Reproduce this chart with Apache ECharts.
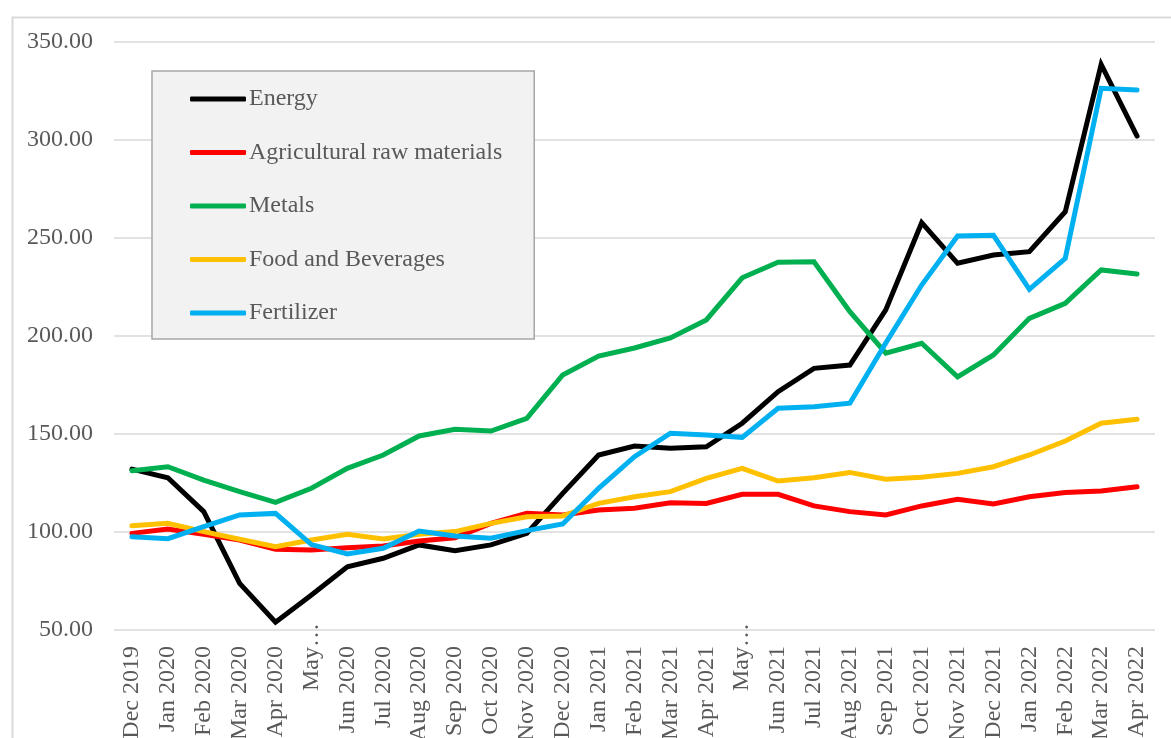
<!DOCTYPE html>
<html>
<head>
<meta charset="utf-8">
<script src="https://cdn.jsdelivr.net/npm/echarts@6/dist/echarts.min.js"></script>
<style>
  html, body { margin: 0; padding: 0; background: #ffffff; }
  #chart { width: 1171px; height: 738px; }
</style>
</head>
<body>
<div id="chart"></div>
<script>
// Monthly commodity price indices, Dec 2019 – Apr 2022
const months = [
  'Dec 2019', 'Jan 2020', 'Feb 2020', 'Mar 2020', 'Apr 2020', 'May 2020',
  'Jun 2020', 'Jul 2020', 'Aug 2020', 'Sep 2020', 'Oct 2020', 'Nov 2020',
  'Dec 2020', 'Jan 2021', 'Feb 2021', 'Mar 2021', 'Apr 2021', 'May 2021',
  'Jun 2021', 'Jul 2021', 'Aug 2021', 'Sep 2021', 'Oct 2021', 'Nov 2021',
  'Dec 2021', 'Jan 2022', 'Feb 2022', 'Mar 2022', 'Apr 2022'
];

const energy = [
  132.1, 127.7, 110.4, 73.8, 54.0, 67.9, 82.3, 86.6, 93.4, 90.5, 93.4, 99.3,
  119.7, 139.3, 143.9, 142.7, 143.5, 155.5, 171.6, 183.5, 185.2, 213.3, 257.8,
  237.1, 241.3, 243.0, 263.4, 338.6, 302.0
];
const agriRaw = [
  99.3, 101.5, 98.8, 95.9, 91.2, 90.8, 92.0, 92.9, 95.4, 97.1, 104.4, 109.5,
  108.7, 111.2, 112.1, 114.9, 114.6, 119.2, 119.2, 113.3, 110.4, 108.7, 113.3,
  116.7, 114.3, 118.0, 120.2, 120.9, 123.1
];
const metals = [
  131.3, 133.3, 126.5, 120.6, 115.1, 122.3, 132.5, 139.3, 149.0, 152.4, 151.5, 158.0,
  180.1, 189.8, 193.9, 199.0, 208.2, 229.7, 237.6, 237.9, 212.4, 191.2, 196.3,
  179.2, 190.3, 209.0, 216.7, 233.7, 231.6
];
const foodBev = [
  103.2, 104.4, 100.2, 96.3, 92.5, 95.9, 98.8, 96.4, 98.8, 100.2, 104.4, 107.8,
  108.2, 114.6, 118.0, 120.6, 127.4, 132.5, 126.0, 127.7, 130.4, 126.9, 127.9,
  129.9, 133.3, 139.3, 146.4, 155.5, 157.5
];
const fertilizer = [
  97.6, 96.6, 102.7, 108.7, 109.5, 93.6, 88.8, 91.7, 100.5, 98.0, 96.8, 100.7,
  104.1, 122.3, 138.4, 150.4, 149.5, 148.3, 163.1, 163.9, 165.7, 196.4, 226.0,
  251.0, 251.4, 223.8, 239.6, 326.4, 325.5
];

const seriesNames = ['Energy', 'Agricultural raw materials', 'Metals', 'Food and Beverages', 'Fertilizer'];
const seriesColors = ['#000000', '#ff0000', '#00b050', '#ffc000', '#00b0f0'];
const seriesValues = [energy, agriRaw, metals, foodBev, fertilizer];

// Y axis ticks
const yMin = 50, yMax = 350, yStep = 50;

// Labels that the axis shortens
const shortLabel = { 'May 2020': 'May…', 'May 2021': 'May…' };

const FONT = '"Liberation Serif", "Times New Roman", serif';
const TEXT = '#595959';
const GRID = '#d9d9d9';

const chart = echarts.init(document.getElementById('chart'), null, { renderer: 'canvas' });

const isShort = (v) => Object.prototype.hasOwnProperty.call(shortLabel, v);

chart.setOption({
  backgroundColor: '#ffffff',
  animation: false,
  graphic: [{
    type: 'rect',
    left: 10, top: 15,
    shape: { width: 1175, height: 740 },
    style: { fill: 'none', stroke: GRID, lineWidth: 2 },
    silent: true, z: -1
  }],
  grid: {
    left: 114, right: 16, top: 42, bottom: 108,
    containLabel: false,
    outerBoundsMode: 'none'
  },
  legend: {
    orient: 'vertical',
    left: 152, top: 71,
    padding: [16, 32, 14, 38],
    itemGap: 29.5,
    itemWidth: 56,
    itemHeight: 5,
    icon: 'roundRect',
    backgroundColor: '#f2f2f2',
    borderColor: '#a6a6a6',
    borderWidth: 1.5,
    borderRadius: 0,
    textStyle: { fontFamily: FONT, fontSize: 24, color: TEXT, lineHeight: 24, padding: [0, 0, 0, -2] },
    data: seriesNames
  },
  xAxis: [{
    type: 'category',
    data: months,
    boundaryGap: true,
    axisLine: { show: false },
    axisTick: { show: false },
    axisLabel: {
      rotate: 90,
      margin: 16,
      interval: 0,
      fontFamily: FONT, fontSize: 24, color: TEXT,
      formatter: (v) => isShort(v) ? '' : v
    },
    splitLine: { show: false }
  }, {
    type: 'category',
    data: months,
    position: 'bottom',
    boundaryGap: true,
    axisLine: { show: false },
    axisTick: { show: false },
    axisLabel: {
      rotate: 90,
      margin: -7,
      interval: 0,
      fontFamily: FONT, fontSize: 24, color: TEXT,
      formatter: (v) => isShort(v) ? shortLabel[v] : ''
    },
    splitLine: { show: false }
  }],
  yAxis: {
    type: 'value',
    min: yMin, max: yMax, interval: yStep,
    axisLine: { show: false },
    axisTick: { show: false },
    axisLabel: {
      margin: 21,
      fontFamily: FONT, fontSize: 24, color: TEXT,
      formatter: (v) => v.toFixed(2)
    },
    splitLine: { show: true, lineStyle: { color: GRID, width: 1.5 } }
  },
  series: seriesNames.map((name, i) => ({
    name,
    type: 'line',
    data: seriesValues[i],
    xAxisIndex: 0,
    symbol: 'none',
    smooth: false,
    color: seriesColors[i],
    lineStyle: { width: 5, color: seriesColors[i], cap: 'round', join: 'miter' }
  }))
});
</script>
</body>
</html>
